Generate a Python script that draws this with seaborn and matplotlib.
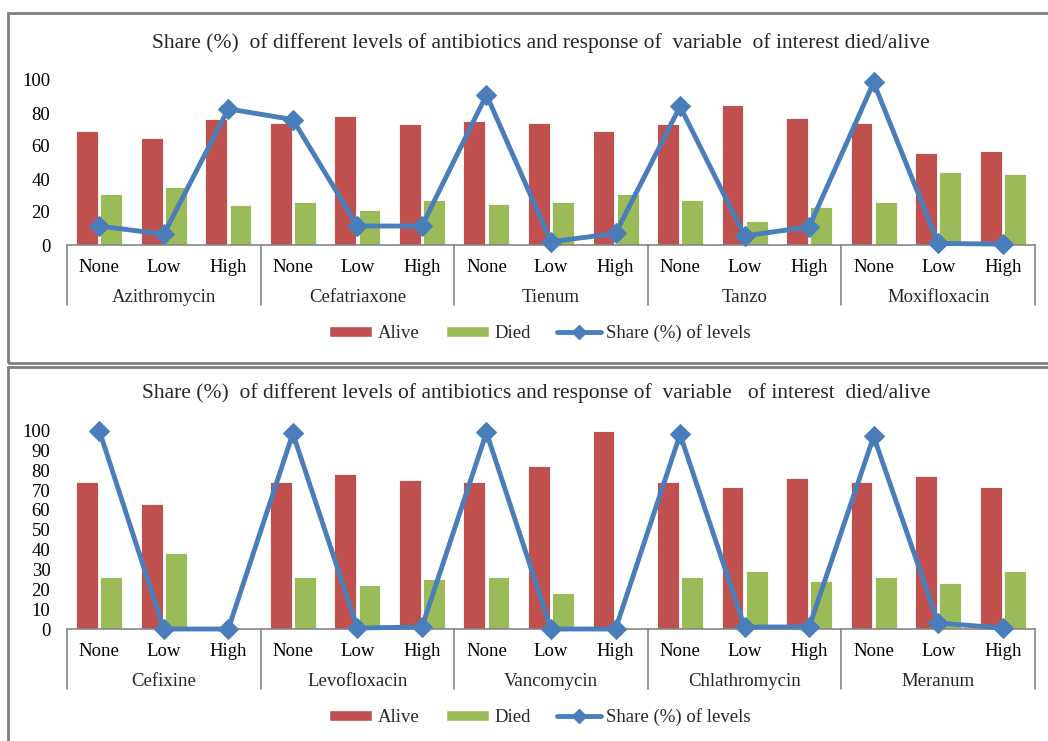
import matplotlib
matplotlib.use("Agg")
import matplotlib.pyplot as plt
import matplotlib.transforms as mtransforms
from matplotlib.patches import Rectangle, Patch
from matplotlib.lines import Line2D
import numpy as np
import pandas as pd
import seaborn as sns

sns.set_style("white")
plt.rcParams["font.family"] = ["Liberation Serif", "DejaVu Serif"]

# data
levels = ["None", "Low", "High"]
statuses = ["Alive", "Died"]

drugs_top = ["Azithromycin", "Cefatriaxone", "Tienum", "Tanzo", "Moxifloxacin"]
alive_top = [69, 65, 76.5, 74, 78, 73.5, 75, 74, 69, 73.5, 85, 77, 74, 56, 57]
died_top = [31, 35, 24, 26, 21.5, 27.5, 25, 26, 31, 27, 14.5, 23, 26, 44, 43]
share_top = [11.5, 6.5, 82.5, 76, 11.5, 11.5, 91, 2, 7, 84, 5.5, 11, 98.5, 1, 0.5]

drugs_bottom = ["Cefixine", "Levofloxacin", "Vancomycin", "Chlathromycin", "Meranum"]
alive_bottom = [74, 63, 0, 74, 78, 75, 74, 82, 100, 74, 71.5, 76, 74, 77, 71.5]
died_bottom = [26, 38.5, 0, 26, 22, 25, 26, 18, 0, 26, 29, 24, 26, 23, 29]
share_bottom = [100, 0, 0, 98.5, 0.5, 1, 99, 0, 0, 98, 1, 1, 97, 3, 0.5]

title_top = "Share (%)  of different levels of antibiotics and response of  variable  of interest died/alive"
title_bottom = "Share (%)  of different levels of antibiotics and response of  variable   of interest  died/alive"
share_label = "Share (%) of levels"

colors = {"Alive": "#C0504D", "Died": "#9BBB59"}
line_color = "#4A7EBB"
grey = "#868686"
W, H = 1048, 741
FS = 13.5

fig = plt.figure(figsize=(W / 100, H / 100), dpi=100)


def draw_panel(ax, drugs, alive, died, share, ystep, group_px, title, title_xy, legend_y):
    keys = [f"{d}|{lv}" for d in drugs for lv in levels]
    df = pd.DataFrame({
        "key": keys * 2,
        "status": ["Alive"] * len(keys) + ["Died"] * len(keys),
        "value": list(alive) + list(died),
    })
    sns.barplot(data=df, x="key", y="value", hue="status", order=keys,
                hue_order=statuses, palette=colors, saturation=1,
                width=0.75, gap=0.1, edgecolor="white", linewidth=0.6,
                legend=False, ax=ax)
    sns.lineplot(x=np.arange(len(keys)), y=share, ax=ax, color=line_color,
                 lw=3.5, marker="D", markersize=10, markeredgecolor=line_color,
                 sort=False, clip_on=False, zorder=5)

    ax.set_xlim(-0.5, len(keys) - 0.5)
    ax.set_ylim(0, 100)
    ax.set_yticks(np.arange(0, 101, ystep))
    ax.set_xticks(range(len(keys)), labels=levels * len(drugs))
    ax.set_xlabel("")
    ax.set_ylabel("")
    ax.tick_params(axis="both", length=0, labelsize=FS, colors="black")
    ax.tick_params(axis="x", pad=10)
    ax.tick_params(axis="y", pad=12)
    for s in ["left", "top", "right"]:
        ax.spines[s].set_visible(False)
    ax.spines["bottom"].set_color(grey)
    ax.spines["bottom"].set_linewidth(1.2)

    # two-level category axis: group separators and group names
    blend = mtransforms.blended_transform_factory(ax.transData, ax.transAxes)
    ax_h = ax.get_position().height * H
    depth = group_px / ax_h
    for b in np.arange(-0.5, len(keys), 3):
        ax.plot([b, b], [0, -depth], transform=blend, color=grey, lw=1.2,
                clip_on=False)
    name_tr = mtransforms.offset_copy(blend, fig=fig, y=-53, units="dots")
    for i, d in enumerate(drugs):
        ax.text(3 * i + 1, 0, d, transform=name_tr, ha="center", va="center",
                fontsize=FS)

    fig.text(title_xy[0] / W, 1 - title_xy[1] / H, title, ha="center",
             va="center", fontsize=15.5)

    handles = [Patch(facecolor=colors["Alive"]), Patch(facecolor=colors["Died"]),
               Line2D([], [], color=line_color, lw=3.5, marker="D", markersize=7)]
    fig.legend(handles, statuses + [share_label], loc="center",
               bbox_to_anchor=(540 / W, 1 - legend_y / H), ncol=3, frameon=False,
               handlelength=2.3, handleheight=0.55, handletextpad=0.3,
               columnspacing=1.4, fontsize=FS)


ax_top = fig.add_axes([67 / W, 1 - 245 / H, 968 / W, 165 / H])
draw_panel(ax_top, drugs_top, alive_top, died_top, share_top, 20, 60,
           title_top, (541, 43), 333)

ax_bot = fig.add_axes([67 / W, 1 - 629 / H, 968 / W, 198.5 / H])
draw_panel(ax_bot, drugs_bottom, alive_bottom, died_bottom, share_bottom, 10, 60,
           title_bottom, (536, 393), 717)

# chart frames
fig.add_artist(Rectangle((8 / W, 1 - 363 / H), 1.1, (363 - 13) / H,
                         transform=fig.transFigure, fill=False,
                         edgecolor="#7f7f7f", lw=2))
fig.add_artist(Rectangle((8 / W, -0.2), 1.1, 0.2 + 1 - 367 / H,
                         transform=fig.transFigure, fill=False,
                         edgecolor="#7f7f7f", lw=2))

fig.savefig("out.png", dpi=100)
